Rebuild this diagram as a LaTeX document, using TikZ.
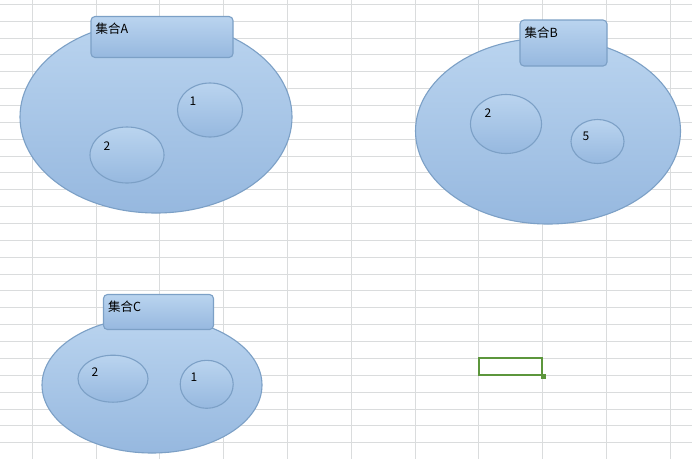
\documentclass[tikz,border=0pt]{standalone}
\usepackage{fontspec}
\newfontfamily\cjk{Noto Sans CJK SC}
\usepackage{tikz}
\usetikzlibrary{shapes.geometric,positioning}
\usepackage{xcolor}

\definecolor{gridgray}{RGB}{218,220,221}
\definecolor{blobtop}{RGB}{186,212,239}
\definecolor{blobbot}{RGB}{150,184,223}
\definecolor{blobline}{RGB}{124,160,198}
\definecolor{cellgreen}{RGB}{92,150,60}

\tikzset{
  blob/.style={ellipse, draw=blobline, line width=1.1pt, top color=blobtop, bottom color=blobbot, inner sep=0pt},
  tagbox/.style={rectangle, rounded corners=4pt, draw=blobline, line width=1.1pt, top color=blobtop, bottom color=blobbot, inner sep=0pt},
  tagtext/.style={font=\cjk\fontsize{12.5}{14}\selectfont, inner sep=0pt, anchor=north west},
  numtext/.style={font=\cjk\fontsize{12}{14}\selectfont, inner sep=0pt}
}

\begin{document}
\begin{tikzpicture}[x=1pt, y=-1pt]
\useasboundingbox (0,0) rectangle (692,459);
\fill[white] (0,0) rectangle (692,459);

% sheet grid
\foreach \i in {0,...,10}
  \draw[gridgray, line width=0.9pt] ({32.2+63.8*\i},0) -- ({32.2+63.8*\i},459);
\foreach \j in {0,...,26}
  \draw[gridgray, line width=0.9pt] (0,{4.3+16.86*\j}) -- (692,{4.3+16.86*\j});

% set A
\node[blob, minimum width=272, minimum height=192] (setA) at (156,117) {};
\node[tagbox, minimum width=142, minimum height=41] (tagA) at (162,37) {};
\node[tagtext] (tagAtext) at ([xshift=5pt, yshift=-7pt]tagA.north west) {集合A};
\node[blob, minimum width=65, minimum height=54] (a1) at (210,110) {};
\node[blob, minimum width=74, minimum height=56] (a2) at (127,155) {};
\node[numtext] (a1num) at (193,101) {1};
\node[numtext] (a2num) at (107,146) {2};

% set B
\node[blob, minimum width=265, minimum height=186] (setB) at (548,131) {};
\node[tagbox, minimum width=87, minimum height=46] (tagB) at (563.5,43) {};
\node[tagtext] (tagBtext) at ([xshift=5pt, yshift=-7pt]tagB.north west) {集合B};
\node[blob, minimum width=71, minimum height=59] (b2) at (506,124) {};
\node[blob, minimum width=53, minimum height=44] (b5) at (597.5,141.5) {};
\node[numtext] (b2num) at (488,113) {2};
\node[numtext] (b5num) at (586,136) {5};

% set C
\node[blob, minimum width=220, minimum height=136] (setC) at (152,385) {};
\node[tagbox, minimum width=110, minimum height=35] (tagC) at (158.5,312) {};
\node[tagtext] (tagCtext) at ([xshift=5pt, yshift=-7pt]tagC.north west) {集合C};
\node[blob, minimum width=70, minimum height=47] (c2) at (113,378.7) {};
\node[blob, minimum width=53, minimum height=48] (c1) at (206.7,384.3) {};
\node[numtext] (c2num) at (95,372) {2};
\node[numtext] (c1num) at (194,377.5) {1};

% selected cell
\node[rectangle, draw=cellgreen, line width=2.5pt, minimum width=63, minimum height=17, inner sep=0pt] (cell) at (510.5,366.5) {};
\node[rectangle, fill=cellgreen, minimum size=5pt, inner sep=0pt] (handle) at ([xshift=0.5pt, yshift=-0.5pt]cell.south east) {};

\end{tikzpicture}
\end{document}
